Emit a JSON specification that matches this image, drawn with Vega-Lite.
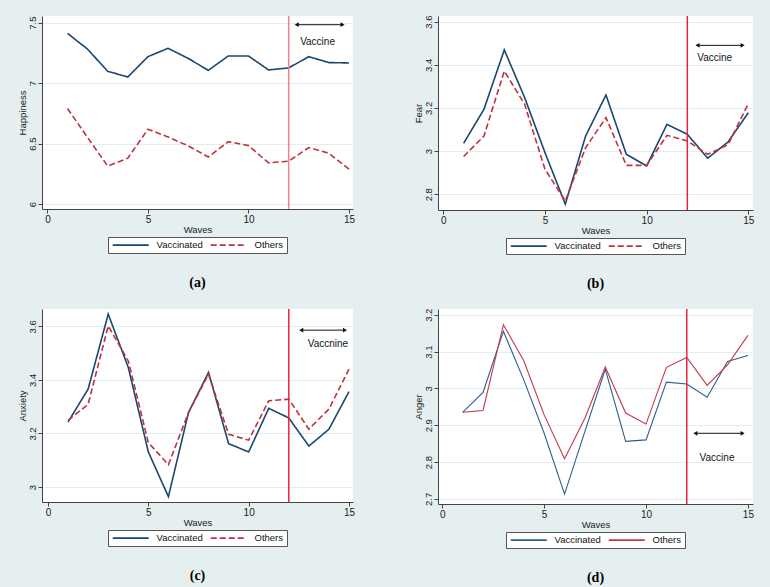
{
  "$schema": "https://vega.github.io/schema/vega-lite/v6.json",
  "background": "#e6eff0",
  "padding": {"left": 17, "top": 15, "right": 17, "bottom": 2},
  "datasets": {
    "happiness": [
      {"wave": 1, "Vaccinated": 7.412, "Others": 6.79},
      {"wave": 2, "Vaccinated": 7.28, "Others": 6.55},
      {"wave": 3, "Vaccinated": 7.098, "Others": 6.314},
      {"wave": 4, "Vaccinated": 7.051, "Others": 6.38},
      {"wave": 5, "Vaccinated": 7.219, "Others": 6.619},
      {"wave": 6, "Vaccinated": 7.288, "Others": 6.555},
      {"wave": 7, "Vaccinated": 7.205, "Others": 6.482},
      {"wave": 8, "Vaccinated": 7.106, "Others": 6.39},
      {"wave": 9, "Vaccinated": 7.225, "Others": 6.517},
      {"wave": 10, "Vaccinated": 7.225, "Others": 6.484},
      {"wave": 11, "Vaccinated": 7.109, "Others": 6.341},
      {"wave": 12, "Vaccinated": 7.126, "Others": 6.355},
      {"wave": 13, "Vaccinated": 7.219, "Others": 6.468},
      {"wave": 14, "Vaccinated": 7.17, "Others": 6.421},
      {"wave": 15, "Vaccinated": 7.167, "Others": 6.289}
    ],
    "fear": [
      {"wave": 1, "Vaccinated": 3.036, "Others": 2.975},
      {"wave": 2, "Vaccinated": 3.194, "Others": 3.07},
      {"wave": 3, "Vaccinated": 3.469, "Others": 3.371},
      {"wave": 4, "Vaccinated": 3.248, "Others": 3.217},
      {"wave": 5, "Vaccinated": 2.993, "Others": 2.916},
      {"wave": 6, "Vaccinated": 2.754, "Others": 2.769},
      {"wave": 7, "Vaccinated": 3.07, "Others": 3.016},
      {"wave": 8, "Vaccinated": 3.26, "Others": 3.155},
      {"wave": 9, "Vaccinated": 2.985, "Others": 2.934},
      {"wave": 10, "Vaccinated": 2.931, "Others": 2.934},
      {"wave": 11, "Vaccinated": 3.124, "Others": 3.073},
      {"wave": 12, "Vaccinated": 3.078, "Others": 3.047},
      {"wave": 13, "Vaccinated": 2.967, "Others": 2.985},
      {"wave": 14, "Vaccinated": 3.042, "Others": 3.029},
      {"wave": 15, "Vaccinated": 3.178, "Others": 3.22}
    ],
    "anxiety": [
      {"wave": 1, "Vaccinated": 3.243, "Others": 3.249},
      {"wave": 2, "Vaccinated": 3.366, "Others": 3.309},
      {"wave": 3, "Vaccinated": 3.646, "Others": 3.602},
      {"wave": 4, "Vaccinated": 3.447, "Others": 3.471},
      {"wave": 5, "Vaccinated": 3.131, "Others": 3.166},
      {"wave": 6, "Vaccinated": 2.964, "Others": 3.083},
      {"wave": 7, "Vaccinated": 3.278, "Others": 3.278},
      {"wave": 8, "Vaccinated": 3.428, "Others": 3.421},
      {"wave": 9, "Vaccinated": 3.162, "Others": 3.197},
      {"wave": 10, "Vaccinated": 3.131, "Others": 3.175},
      {"wave": 11, "Vaccinated": 3.294, "Others": 3.322},
      {"wave": 12, "Vaccinated": 3.258, "Others": 3.328},
      {"wave": 13, "Vaccinated": 3.153, "Others": 3.216},
      {"wave": 14, "Vaccinated": 3.216, "Others": 3.291},
      {"wave": 15, "Vaccinated": 3.356, "Others": 3.44}
    ],
    "anger": [
      {"wave": 1, "Vaccinated": 2.935, "Others": 2.935},
      {"wave": 2, "Vaccinated": 2.989, "Others": 2.94},
      {"wave": 3, "Vaccinated": 3.155, "Others": 3.173},
      {"wave": 4, "Vaccinated": 3.023, "Others": 3.075},
      {"wave": 5, "Vaccinated": 2.878, "Others": 2.928},
      {"wave": 6, "Vaccinated": 2.713, "Others": 2.809},
      {"wave": 7, "Vaccinated": 2.883, "Others": 2.919},
      {"wave": 8, "Vaccinated": 3.052, "Others": 3.058},
      {"wave": 9, "Vaccinated": 2.856, "Others": 2.933},
      {"wave": 10, "Vaccinated": 2.86, "Others": 2.903},
      {"wave": 11, "Vaccinated": 3.017, "Others": 3.057},
      {"wave": 12, "Vaccinated": 3.012, "Others": 3.084},
      {"wave": 13, "Vaccinated": 2.976, "Others": 3.008},
      {"wave": 14, "Vaccinated": 3.073, "Others": 3.064},
      {"wave": 15, "Vaccinated": 3.089, "Others": 3.144}
    ],
    "one": [{}]
  },
  "resolve": {
    "scale": {"color": "independent", "strokeDash": "independent"},
    "legend": {"color": "independent", "strokeDash": "independent"}
  },
  "spacing": 17,
  "vconcat": [
    {
      "spacing": 58,
      "resolve": {
        "scale": {"color": "independent", "strokeDash": "independent"},
        "legend": {"color": "independent", "strokeDash": "independent"}
      },
      "hconcat": [
        {
          "width": 311, "height": 193,
          "title": {"text": "(a)"},
          "layer": [
            {
              "data": {"name": "happiness"},
              "transform": [{"fold": ["Vaccinated", "Others"], "as": ["group", "value"]}],
              "mark": {"type": "line", "strokeWidth": 1.6},
              "encoding": {
                "x": {"field": "wave", "type": "quantitative", "scale": {"domain": [-0.27, 15.2], "nice": false, "zero": false}, "axis": {"values": [0, 5, 10, 15], "title": "Waves"}},
                "y": {"field": "value", "type": "quantitative", "scale": {"domain": [5.96, 7.555], "nice": false, "zero": false}, "axis": {"values": [6, 6.5, 7, 7.5], "format": "~g", "title": "Happiness", "labelOverlap": false, "tickCount": 10}},
                "color": {"field": "group", "type": "nominal", "scale": {"domain": ["Vaccinated", "Others"], "range": ["#1a476f", "#c1313e"]}, "legend": {"title": null}},
                "strokeDash": {"field": "group", "type": "nominal", "scale": {"domain": ["Vaccinated", "Others"], "range": [[1, 0], [6, 3]]}, "legend": {"title": null}}
              }
            },
            {"data": {"name": "one"}, "mark": {"type": "rule", "color": "#ee8090", "strokeWidth": 1.5}, "encoding": {"x": {"datum": 12}}},
            {"data": {"name": "one"}, "mark": {"type": "rule", "color": "#111111", "strokeWidth": 1}, "encoding": {"x": {"datum": 12.4}, "x2": {"datum": 14.68}, "y": {"datum": 7.483}}},
            {"data": {"name": "one"}, "mark": {"type": "point", "shape": "triangle-left", "filled": true, "color": "#111111", "opacity": 1, "size": 22}, "encoding": {"x": {"datum": 12.4}, "y": {"datum": 7.483}}},
            {"data": {"name": "one"}, "mark": {"type": "point", "shape": "triangle-right", "filled": true, "color": "#111111", "opacity": 1, "size": 22}, "encoding": {"x": {"datum": 14.68}, "y": {"datum": 7.483}}},
            {"data": {"name": "one"}, "mark": {"type": "text", "text": "Vaccine", "align": "left", "baseline": "middle", "fontSize": 10, "color": "#111111"}, "encoding": {"x": {"datum": 12.57}, "y": {"datum": 7.34}}}
          ]
        },
        {
          "width": 315, "height": 194,
          "title": {"text": "(b)"},
          "layer": [
            {
              "data": {"name": "fear"},
              "transform": [{"fold": ["Vaccinated", "Others"], "as": ["group", "value"]}],
              "mark": {"type": "line", "strokeWidth": 1.6},
              "encoding": {
                "x": {"field": "wave", "type": "quantitative", "scale": {"domain": [-0.26, 15.23], "nice": false, "zero": false}, "axis": {"values": [0, 5, 10, 15], "title": "Waves"}},
                "y": {"field": "value", "type": "quantitative", "scale": {"domain": [2.727, 3.626], "nice": false, "zero": false}, "axis": {"values": [2.8, 3, 3.2, 3.4, 3.6], "format": "~g", "title": "Fear", "labelOverlap": false, "tickCount": 10}},
                "color": {"field": "group", "type": "nominal", "scale": {"domain": ["Vaccinated", "Others"], "range": ["#1a476f", "#c1313e"]}, "legend": {"title": null}},
                "strokeDash": {"field": "group", "type": "nominal", "scale": {"domain": ["Vaccinated", "Others"], "range": [[1, 0], [6, 3]]}, "legend": {"title": null}}
              }
            },
            {"data": {"name": "one"}, "mark": {"type": "rule", "color": "#e8243c", "strokeWidth": 1.5}, "encoding": {"x": {"datum": 12}}},
            {"data": {"name": "one"}, "mark": {"type": "rule", "color": "#111111", "strokeWidth": 1}, "encoding": {"x": {"datum": 12.5}, "x2": {"datum": 14.72}, "y": {"datum": 3.49}}},
            {"data": {"name": "one"}, "mark": {"type": "point", "shape": "triangle-left", "filled": true, "color": "#111111", "opacity": 1, "size": 22}, "encoding": {"x": {"datum": 12.5}, "y": {"datum": 3.49}}},
            {"data": {"name": "one"}, "mark": {"type": "point", "shape": "triangle-right", "filled": true, "color": "#111111", "opacity": 1, "size": 22}, "encoding": {"x": {"datum": 14.72}, "y": {"datum": 3.49}}},
            {"data": {"name": "one"}, "mark": {"type": "text", "text": "Vaccine", "align": "left", "baseline": "middle", "fontSize": 10, "color": "#111111"}, "encoding": {"x": {"datum": 12.49}, "y": {"datum": 3.43}}}
          ]
        }
      ]
    },
    {
      "spacing": 58,
      "resolve": {
        "scale": {"color": "independent", "strokeDash": "independent"},
        "legend": {"color": "independent", "strokeDash": "independent"}
      },
      "hconcat": [
        {
          "width": 311, "height": 193,
          "title": {"text": "(c)"},
          "layer": [
            {
              "data": {"name": "anxiety"},
              "transform": [{"fold": ["Vaccinated", "Others"], "as": ["group", "value"]}],
              "mark": {"type": "line", "strokeWidth": 1.6},
              "encoding": {
                "x": {"field": "wave", "type": "quantitative", "scale": {"domain": [-0.3, 15.2], "nice": false, "zero": false}, "axis": {"values": [0, 5, 10, 15], "title": "Waves"}},
                "y": {"field": "value", "type": "quantitative", "scale": {"domain": [2.944, 3.665], "nice": false, "zero": false}, "axis": {"values": [3, 3.2, 3.4, 3.6], "format": "~g", "title": "Anxiety", "labelOverlap": false, "tickCount": 10}},
                "color": {"field": "group", "type": "nominal", "scale": {"domain": ["Vaccinated", "Others"], "range": ["#1a476f", "#c1313e"]}, "legend": {"title": null}},
                "strokeDash": {"field": "group", "type": "nominal", "scale": {"domain": ["Vaccinated", "Others"], "range": [[1, 0], [6, 3]]}, "legend": {"title": null}}
              }
            },
            {"data": {"name": "one"}, "mark": {"type": "rule", "color": "#e8243c", "strokeWidth": 1.5}, "encoding": {"x": {"datum": 12}}},
            {"data": {"name": "one"}, "mark": {"type": "rule", "color": "#111111", "strokeWidth": 1}, "encoding": {"x": {"datum": 12.62}, "x2": {"datum": 14.8}, "y": {"datum": 3.586}}},
            {"data": {"name": "one"}, "mark": {"type": "point", "shape": "triangle-left", "filled": true, "color": "#111111", "opacity": 1, "size": 22}, "encoding": {"x": {"datum": 12.62}, "y": {"datum": 3.586}}},
            {"data": {"name": "one"}, "mark": {"type": "point", "shape": "triangle-right", "filled": true, "color": "#111111", "opacity": 1, "size": 22}, "encoding": {"x": {"datum": 14.8}, "y": {"datum": 3.586}}},
            {"data": {"name": "one"}, "mark": {"type": "text", "text": "Vaccnine", "align": "right", "baseline": "middle", "fontSize": 10, "color": "#111111"}, "encoding": {"x": {"datum": 14.96}, "y": {"datum": 3.534}}}
          ]
        },
        {
          "width": 315, "height": 195,
          "title": {"text": "(d)"},
          "layer": [
            {
              "data": {"name": "anger"},
              "transform": [{"fold": ["Vaccinated", "Others"], "as": ["group", "value"]}],
              "mark": {"type": "line", "strokeWidth": 1.1},
              "encoding": {
                "x": {"field": "wave", "type": "quantitative", "scale": {"domain": [-0.21, 15.25], "nice": false, "zero": false}, "axis": {"values": [0, 5, 10, 15], "title": "Waves"}},
                "y": {"field": "value", "type": "quantitative", "scale": {"domain": [2.686, 3.2155], "nice": false, "zero": false}, "axis": {"values": [2.7, 2.8, 2.9, 3, 3.1, 3.2], "format": "~g", "title": "Anger", "labelOverlap": false, "tickCount": 10}},
                "color": {"field": "group", "type": "nominal", "scale": {"domain": ["Vaccinated", "Others"], "range": ["#2a5f8f", "#c23a48"]}, "legend": {"title": null}}
              }
            },
            {"data": {"name": "one"}, "mark": {"type": "rule", "color": "#e8243c", "strokeWidth": 1.5}, "encoding": {"x": {"datum": 12}}},
            {"data": {"name": "one"}, "mark": {"type": "rule", "color": "#111111", "strokeWidth": 1}, "encoding": {"x": {"datum": 12.42}, "x2": {"datum": 14.74}, "y": {"datum": 2.878}}},
            {"data": {"name": "one"}, "mark": {"type": "point", "shape": "triangle-left", "filled": true, "color": "#111111", "opacity": 1, "size": 22}, "encoding": {"x": {"datum": 12.42}, "y": {"datum": 2.878}}},
            {"data": {"name": "one"}, "mark": {"type": "point", "shape": "triangle-right", "filled": true, "color": "#111111", "opacity": 1, "size": 22}, "encoding": {"x": {"datum": 14.74}, "y": {"datum": 2.878}}},
            {"data": {"name": "one"}, "mark": {"type": "text", "text": "Vaccine", "align": "left", "baseline": "middle", "fontSize": 10, "color": "#111111"}, "encoding": {"x": {"datum": 12.63}, "y": {"datum": 2.81}}}
          ]
        }
      ]
    }
  ],
  "config": {
    "font": "Liberation Sans",
    "view": {"fill": "white", "stroke": null},
    "title": {"orient": "bottom", "font": "Liberation Serif", "fontSize": 14, "fontWeight": "bold", "color": "#000000", "offset": 22, "anchor": "middle"},
    "axis": {
      "labelFont": "Liberation Sans", "labelFontSize": 9.5, "labelColor": "#222222",
      "titleFont": "Liberation Sans", "titleFontSize": 9.5, "titleFontWeight": "normal", "titleColor": "#222222",
      "domainColor": "#444444", "tickColor": "#444444", "tickSize": 4, "labelPadding": 1, "titlePadding": 0,
      "gridColor": "#e3edf0", "gridWidth": 1, "labelOverlap": false, "labelFlush": false
    },
    "axisX": {"grid": false, "labelFontSize": 10},
    "axisY": {"grid": true, "labelAngle": -90},
    "legend": {
      "orient": "bottom", "direction": "horizontal", "strokeColor": "#555555", "fillColor": "white",
      "padding": 3, "symbolType": "M-1,0H11", "symbolSize": 36, "symbolStrokeWidth": 1.6, "labelOffset": 36,
      "labelFont": "Liberation Sans", "labelFontSize": 9.5, "labelColor": "#111111", "columnPadding": 4, "offset": 3,
      "layout": {"bottom": {"anchor": "middle"}}
    }
  }
}
